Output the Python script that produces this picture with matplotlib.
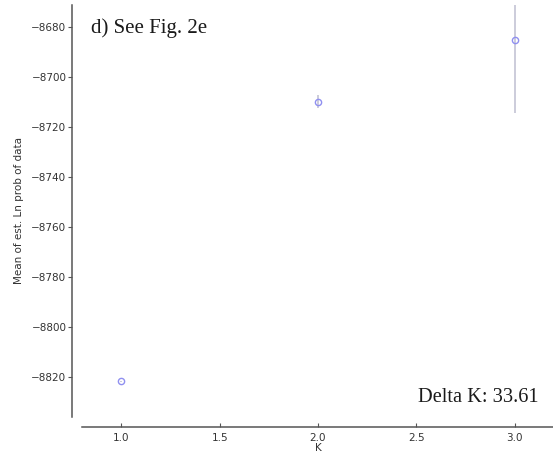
import matplotlib
matplotlib.use("Agg")
import matplotlib.pyplot as plt

# Mean estimated Ln probability of data per K, with standard deviations
k_values = [1.0, 2.0, 3.0]
mean_lnp = [-8821.8, -8709.9, -8685.0]
sd_lnp = [0.4, 2.6, 29.4]
delta_k_text = "Delta K: 33.61"
panel_title = "d) See Fig. 2e"

W, H = 553, 457
fig = plt.figure(figsize=(W / 100, H / 100), dpi=100)
ax = fig.add_axes([82 / W, 40 / H, 472 / W, 412 / H])

ax.errorbar(k_values, mean_lnp, yerr=sd_lnp, fmt="o", mfc="none",
            mec="#9090f0", ms=4.5, mew=1.0, ecolor="#c8c8d8", elinewidth=1.3,
            capsize=0, zorder=3)

ax.set_xlim(0.8, 3.2)
ax.set_ylim(-8836, -8671.2)
ax.set_xticks([1.0, 1.5, 2.0, 2.5, 3.0])
ax.set_yticks([-8680, -8700, -8720, -8740, -8760, -8780, -8800, -8820])

for side in ("top", "right"):
    ax.spines[side].set_visible(False)
ax.spines["left"].set_position(("outward", 7.2))
ax.spines["bottom"].set_position(("outward", 7.2))
for side in ("left", "bottom"):
    ax.spines[side].set_color("#555555")
    ax.spines[side].set_linewidth(1.1)

ax.tick_params(axis="y", direction="out", length=3, width=0.8,
               colors="#555555", labelcolor="#333333", labelsize=7.5, pad=1)
ax.tick_params(axis="x", direction="in", length=3, width=0.8,
               colors="#555555", labelcolor="#333333", labelsize=7.5, pad=4)

ax.set_xlabel("K", fontsize=7.5, color="#333333", labelpad=0.5)
ax.set_ylabel("Mean of est. Ln prob of data", fontsize=7.5, color="#333333",
              labelpad=5)

ax.text(0.845, -8680.5, panel_title, family="Liberation Serif", fontsize=15,
        color="#1a1a1a", va="center", ha="left")
ax.text(3.12, -8828.3, delta_k_text, family="Liberation Serif", fontsize=14.7,
        color="#1a1a1a", va="center", ha="right")

fig.savefig("out.png", dpi=100)
